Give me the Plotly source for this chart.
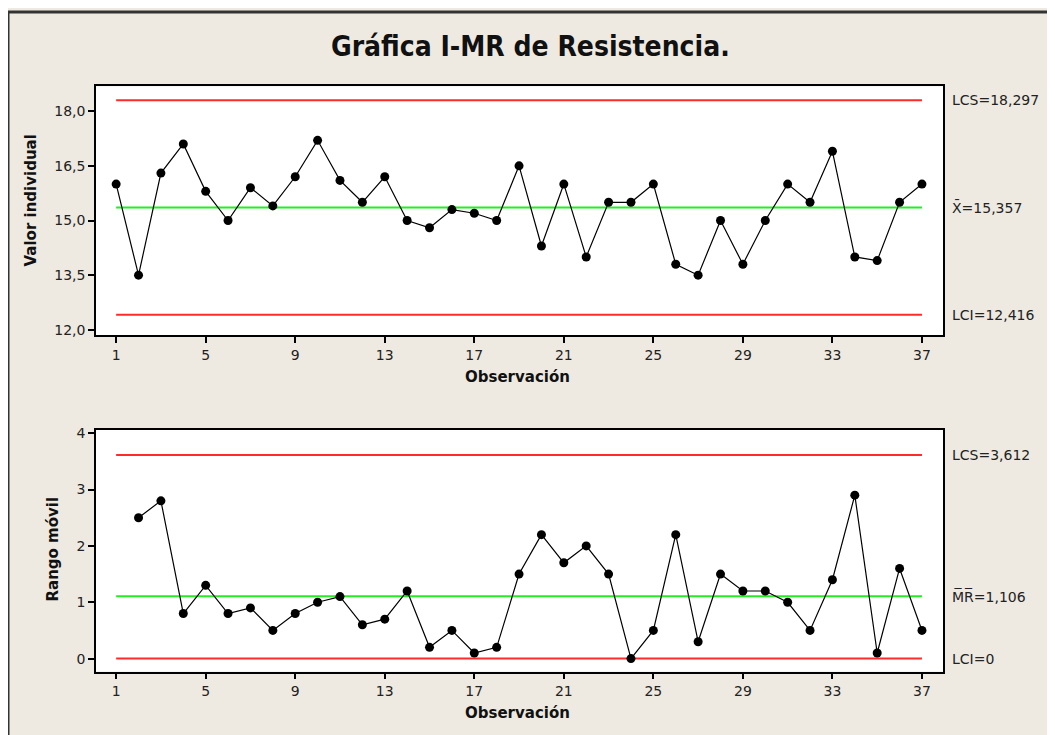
import plotly.graph_objects as go

# datos de la gráfica I-MR
observacion = list(range(1, 38))
valor_individual = [16.0, 13.5, 16.3, 17.1, 15.8, 15.0, 15.9, 15.4, 16.2, 17.2,
                    16.1, 15.5, 16.2, 15.0, 14.8, 15.3, 15.2, 15.0, 16.5, 14.3,
                    16.0, 14.0, 15.5, 15.5, 16.0, 13.8, 13.5, 15.0, 13.8, 15.0,
                    16.0, 15.5, 16.9, 14.0, 13.9, 15.5, 16.0]
obs_rango = list(range(2, 38))
rango_movil = [2.5, 2.8, 0.8, 1.3, 0.8, 0.9, 0.5, 0.8, 1.0, 1.1,
               0.6, 0.7, 1.2, 0.2, 0.5, 0.1, 0.2, 1.5, 2.2, 1.7,
               2.0, 1.5, 0.0, 0.5, 2.2, 0.3, 1.5, 1.2, 1.2, 1.0,
               0.5, 1.4, 2.9, 0.1, 1.6, 0.5]

lcs_i, media_i, lci_i = 18.297, 15.357, 12.416
lcs_mr, media_mr, lci_mr = 3.612, 1.106, 0.0

ticks_x = [1, 5, 9, 13, 17, 21, 25, 29, 33, 37]
ticks_i = [12.0, 13.5, 15.0, 16.5, 18.0]
ticks_mr = [0, 1, 2, 3, 4]

# la página deja 8 px de margen en el body
OFF = 8
W, H = 1055 - OFF, 735 - OFF
BG = '#EEEAE1'
ROJO = '#FF2A2A'
VERDE = '#22EE22'
FONT = 'DejaVu Sans, Verdana, sans-serif'


def fx(p):
    return (p - OFF) / W


def fy(p):
    return 1 - (p - OFF) / H


fig = go.Figure()

x_lim = [observacion[0], observacion[-1]]
for xa, ya, lims, centro in [('x', 'y', (lcs_i, lci_i), media_i),
                             ('x2', 'y2', (lcs_mr, lci_mr), media_mr)]:
    for v in lims:
        fig.add_trace(go.Scatter(x=x_lim, y=[v, v], mode='lines', xaxis=xa, yaxis=ya,
                                 line=dict(color=ROJO, width=2), hoverinfo='skip'))
    fig.add_trace(go.Scatter(x=x_lim, y=[centro, centro], mode='lines', xaxis=xa, yaxis=ya,
                             line=dict(color=VERDE, width=2), hoverinfo='skip'))

fig.add_trace(go.Scatter(
    x=observacion, y=valor_individual, mode='lines+markers', xaxis='x', yaxis='y',
    line=dict(color='black', width=1.2),
    marker=dict(color='black', size=9)
))
fig.add_trace(go.Scatter(
    x=obs_rango, y=rango_movil, mode='lines+markers', xaxis='x2', yaxis='y2',
    line=dict(color='black', width=1.2),
    marker=dict(color='black', size=9)
))

eje = dict(showgrid=False, zeroline=False, showline=True, mirror=True,
           linecolor='black', linewidth=1.5, ticks='outside', ticklen=6,
           tickcolor='black', tickwidth=1.5,
           tickfont=dict(family=FONT, size=14, color='#222'))

fig.update_layout(
    width=W, height=H,
    margin=dict(l=0, r=0, t=0, b=0),
    paper_bgcolor=BG,
    plot_bgcolor='white',
    showlegend=False,
    separators=',.',
    xaxis=dict(eje, domain=[fx(96), fx(943)], range=[0.1, 37.94],
               tickvals=ticks_x, anchor='y'),
    yaxis=dict(eje, domain=[fy(334), fy(83)], range=[11.85, 18.68],
               tickvals=ticks_i, tickformat='.1f', anchor='x'),
    xaxis2=dict(eje, domain=[fx(96), fx(943)], range=[0.1, 37.94],
                tickvals=ticks_x, anchor='y2'),
    yaxis2=dict(eje, domain=[fy(673), fy(429)], range=[-0.229, 4.065],
                tickvals=ticks_mr, anchor='x2'),
    shapes=[dict(type='rect', xref='paper', yref='paper',
                 x0=0, x1=1.05, y0=-0.05, y1=1,
                 line=dict(color='#333', width=3), layer='above')]
)

lbl = dict(family=FONT, size=14, color='#222')
tit = dict(family=FONT, size=15, color='#111')
centro_txt = dict(xref='paper', yref='paper', xanchor='center', yanchor='middle',
                  showarrow=False)
notas = [
    dict(centro_txt, text='<b>Gráfica I-MR de Resistencia.</b>', x=fx(530), y=fy(43),
         font=dict(family='Liberation Sans Narrow, DejaVu Sans Condensed, sans-serif',
                   size=28, color='#111')),
    dict(centro_txt, text='<b>Observación</b>', x=fx(517), y=fy(376), font=tit),
    dict(centro_txt, text='<b>Observación</b>', x=fx(517), y=fy(715), font=tit),
    dict(centro_txt, text='<b>Valor individual</b>', x=fx(31), y=fy(198),
         textangle=-90, font=tit),
    dict(centro_txt, text='<b>Rango móvil</b>', x=fx(53), y=fy(550),
         textangle=-90, font=tit),
]
for yref, val, txt in [('y', lcs_i, 'LCS=18,297'), ('y', media_i, 'X̄=15,357'),
                       ('y', lci_i, 'LCI=12,416'), ('y2', lcs_mr, 'LCS=3,612'),
                       ('y2', media_mr, 'M̅R̅=1,106'), ('y2', lci_mr, 'LCI=0')]:
    notas.append(dict(text=txt, xref='paper', yref=yref, x=fx(950), y=val,
                      xanchor='left', yanchor='middle', showarrow=False, font=lbl))
fig.update_layout(annotations=notas)

fig.write_html("out.html")
